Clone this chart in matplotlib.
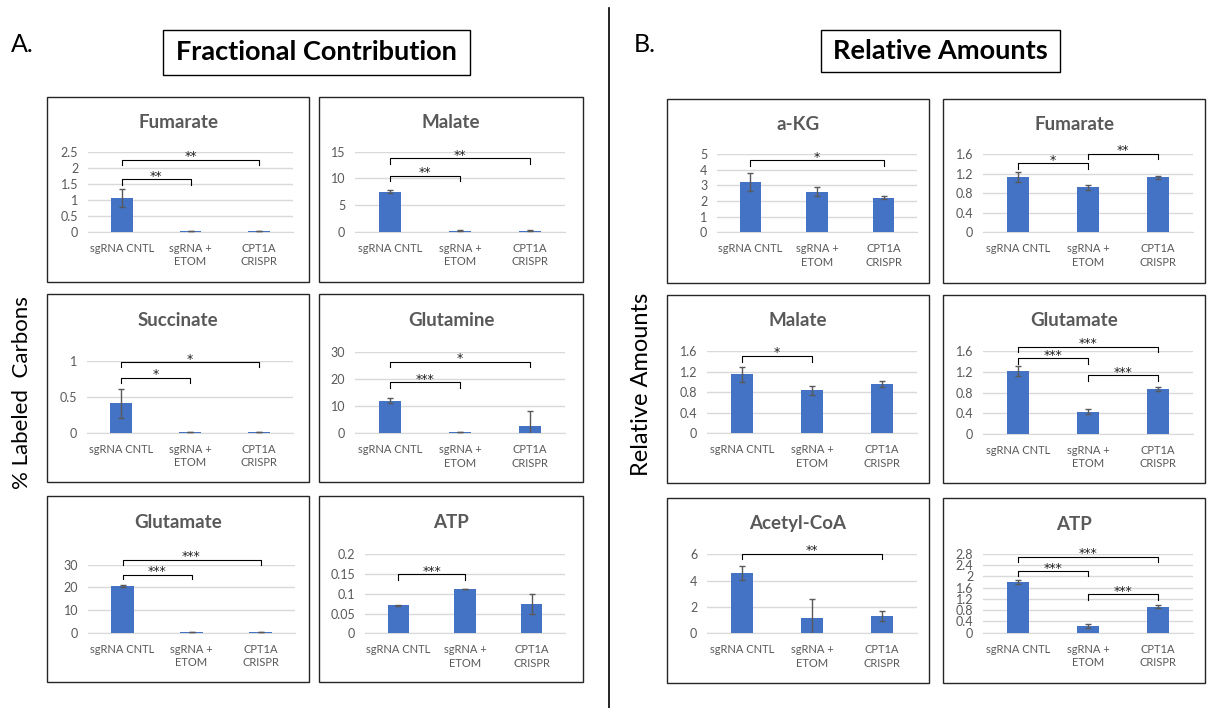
import matplotlib
matplotlib.use("Agg")
import matplotlib.pyplot as plt
from matplotlib.patches import Rectangle
from matplotlib.lines import Line2D
from matplotlib.ticker import FuncFormatter

plt.rcParams['font.family'] = ['Lato', 'DejaVu Sans']

W, H = 1207, 708

# =========================
# DATA
# =========================
categories = ["sgRNA CNTL", "sgRNA +\nETOM", "CPT1A\nCRISPR"]

# A. Fractional contribution (% labeled carbons)
fc_fumarate = [1.05, 0.03, 0.03]
fc_fumarate_err = [0.27, 0.005, 0.005]
fc_malate = [7.5, 0.2, 0.2]
fc_malate_err = [0.3, 0.05, 0.05]
fc_succinate = [0.41, 0.01, 0.01]
fc_succinate_err = [0.2, 0.002, 0.002]
fc_glutamine = [12.1, 0.4, 2.8]
fc_glutamine_err = [0.8, 0.05, 5.4]
fc_glutamate = [20.7, 0.3, 0.3]
fc_glutamate_err = [0.4, 0.05, 0.05]
fc_atp = [0.071, 0.112, 0.074]
fc_atp_err = [0.001, 0.001, 0.026]

# B. Relative amounts
ra_akg = [3.25, 2.61, 2.22]
ra_akg_err = [0.58, 0.27, 0.1]
ra_fumarate = [1.13, 0.92, 1.13]
ra_fumarate_err = [0.1, 0.06, 0.03]
ra_malate = [1.15, 0.84, 0.97]
ra_malate_err = [0.15, 0.09, 0.06]
ra_glutamate = [1.21, 0.43, 0.87]
ra_glutamate_err = [0.1, 0.05, 0.04]
ra_acetylcoa = [4.59, 1.13, 1.34]
ra_acetylcoa_err = [0.52, 1.44, 0.37]
ra_atp = [1.8, 0.235, 0.92]
ra_atp_err = [0.07, 0.07, 0.06]

# significance brackets: (from, to, stars, height as fraction of top tick)
sig_fc_fumarate = [(0, 1, "**", 0.654), (0, 2, "**", 0.896)]
sig_fc_malate = [(0, 1, "**", 0.70), (0, 2, "**", 0.917)]
sig_fc_succinate = [(0, 1, "*", 0.764), (0, 2, "*", 0.98)]
sig_fc_glutamine = [(0, 1, "***", 0.63), (0, 2, "*", 0.885)]
sig_fc_glutamate = [(0, 1, "***", 0.852), (0, 2, "***", 1.07)]
sig_fc_atp = [(0, 1, "***", 0.748)]
sig_ra_akg = [(0, 2, "*", 0.923)]
sig_ra_fumarate = [(0, 1, "*", 0.885), (1, 2, "**", 1.01)]
sig_ra_malate = [(0, 1, "*", 0.943)]
sig_ra_glutamate = [(1, 2, "***", 0.71), (0, 1, "***", 0.91), (0, 2, "***", 1.05)]
sig_ra_acetylcoa = [(0, 2, "**", 1.01)]
sig_ra_atp = [(1, 2, "***", 0.487), (0, 1, "***", 0.78), (0, 2, "***", 0.958)]

BLUE = "#4472C4"
GRAY = "#595959"
GRID = "#D9D9D9"


def fx(x):
    return x / W


def fy(y):
    return 1 - y / H


fig = plt.figure(figsize=(W / 100, H / 100), dpi=100)


def panel(box, plot, title, values, errs, yticks, sigs):
    # box = (x0, y0, x1, y1) pixels ; plot = (x0, x1, y_zero, span_px)
    bx0, by0, bx1, by1 = box
    fig.patches.append(Rectangle((fx(bx0), fy(by1)), (bx1 - bx0) / W, (by1 - by0) / H,
                                 transform=fig.transFigure, fill=False,
                                 edgecolor="#262626", linewidth=1.0))
    fig.text(fx((bx0 + bx1) / 2), fy(by0 + 26), title, ha="center", va="center",
             fontsize=13.5, fontweight="bold", color=GRAY)

    px0, px1, yzero, span = plot
    ax = fig.add_axes([fx(px0), fy(yzero), (px1 - px0) / W, span / H])
    top = yticks[-1]
    ax.set_ylim(0, top)
    ax.set_xlim(-0.5, 2.5)
    x = range(len(values))
    ax.bar(x, values, width=0.32, color=BLUE, zorder=3)
    ax.errorbar(x, values, yerr=errs, fmt="none", ecolor=GRAY, elinewidth=1,
                capsize=2.2, capthick=1, zorder=4, clip_on=True)
    ax.set_yticks(yticks)
    ax.yaxis.set_major_formatter(FuncFormatter(lambda v, p: "{:g}".format(round(v, 3))))
    ax.set_xticks(list(x))
    ax.set_xticklabels(categories, linespacing=1.25)
    ax.tick_params(axis="both", length=0, labelcolor=GRAY)
    ax.tick_params(axis="x", pad=8, labelsize=8)
    ax.tick_params(axis="y", pad=7, labelsize=9)
    ax.yaxis.grid(True, color=GRID, linewidth=1, zorder=0)
    ax.set_axisbelow(True)
    for s in ("top", "right", "left"):
        ax.spines[s].set_visible(False)
    ax.spines["bottom"].set_color(GRID)
    ax.set_facecolor("none")

    drop = 0.068 * top
    for i, j, stars, lvl in sigs:
        yl = lvl * top
        ax.add_line(Line2D([i, i, j, j], [yl - drop, yl, yl, yl - drop],
                           color="black", linewidth=0.8, clip_on=False, zorder=5))
        ax.annotate(stars, xy=((i + j) / 2, yl), xytext=(0, -2.5),
                    textcoords="offset points", ha="center", va="bottom",
                    fontsize=9, family="DejaVu Sans", color="#202020",
                    annotation_clip=False)
    return ax


# =========================
# A. FRACTIONAL CONTRIBUTION
# =========================
panel((47, 97, 309, 282), (88, 293, 231.7, 80), "Fumarate",
      fc_fumarate, fc_fumarate_err, [0, 0.5, 1, 1.5, 2, 2.5], sig_fc_fumarate)
panel((319, 97, 583, 282), (355, 565, 231.7, 80), "Malate",
      fc_malate, fc_malate_err, [0, 5, 10, 15], sig_fc_malate)
panel((47, 294, 309, 482), (87, 293, 432.7, 72), "Succinate",
      fc_succinate, fc_succinate_err, [0, 0.5, 1], sig_fc_succinate)
panel((319, 294, 583, 482), (355, 565, 433.3, 81), "Glutamine",
      fc_glutamine, fc_glutamine_err, [0, 10, 20, 30], sig_fc_glutamine)
panel((47, 496, 309, 682), (88, 295, 632.7, 68), "Glutamate",
      fc_glutamate, fc_glutamate_err, [0, 10, 20, 30], sig_fc_glutamate)
panel((319, 496, 583, 682), (365, 565, 633.3, 79), "ATP",
      fc_atp, fc_atp_err, [0, 0.05, 0.1, 0.15, 0.2], sig_fc_atp)

# =========================
# B. RELATIVE AMOUNTS
# =========================
panel((667, 99, 929, 283), (717, 917, 232.3, 78), "a-KG",
      ra_akg, ra_akg_err, [0, 1, 2, 3, 4, 5], sig_ra_akg)
panel((943, 99, 1205, 283), (983, 1193, 232.3, 78), "Fumarate",
      ra_fumarate, ra_fumarate_err, [0, 0.4, 0.8, 1.2, 1.6], sig_ra_fumarate)
panel((667, 295, 929, 483), (707, 917, 433.3, 82), "Malate",
      ra_malate, ra_malate_err, [0, 0.4, 0.8, 1.2, 1.6], sig_ra_malate)
panel((943, 295, 1205, 483), (983, 1193, 434, 83), "Glutamate",
      ra_glutamate, ra_glutamate_err, [0, 0.4, 0.8, 1.2, 1.6], sig_ra_glutamate)
panel((667, 498, 929, 683), (707, 917, 633.3, 79), "Acetyl-CoA",
      ra_acetylcoa, ra_acetylcoa_err, [0, 2, 4, 6], sig_ra_acetylcoa)
panel((943, 498, 1205, 683), (983, 1193, 632.7, 79), "ATP",
      ra_atp, ra_atp_err, [0, 0.4, 0.8, 1.2, 1.6, 2, 2.4, 2.8], sig_ra_atp)

# =========================
# HEADERS
# =========================
fig.text(fx(11), fy(45), "A.", fontsize=18, ha="left", va="center")
fig.text(fx(634), fy(45), "B.", fontsize=18, ha="left", va="center")

fig.patches.append(Rectangle((fx(163), fy(75)), 307 / W, 45 / H, transform=fig.transFigure,
                             fill=False, edgecolor="black", linewidth=1.0))
fig.text(fx(316.5), fy(52), "Fractional Contribution", fontsize=19.5, fontweight="bold",
         ha="center", va="center")
fig.patches.append(Rectangle((fx(821), fy(72)), 239 / W, 42 / H, transform=fig.transFigure,
                             fill=False, edgecolor="black", linewidth=1.0))
fig.text(fx(940.5), fy(51), "Relative Amounts", fontsize=19.5, fontweight="bold",
         ha="center", va="center")

fig.text(fx(22), fy(393), "% Labeled  Carbons", fontsize=16, rotation=90,
         ha="center", va="center")
fig.text(fx(642), fy(384), "Relative Amounts", fontsize=17, rotation=90,
         ha="center", va="center")

fig.add_artist(Line2D([fx(609), fx(609)], [fy(8), fy(708)], transform=fig.transFigure,
                      color="black", linewidth=1.2))

fig.savefig("out.png", dpi=100)
